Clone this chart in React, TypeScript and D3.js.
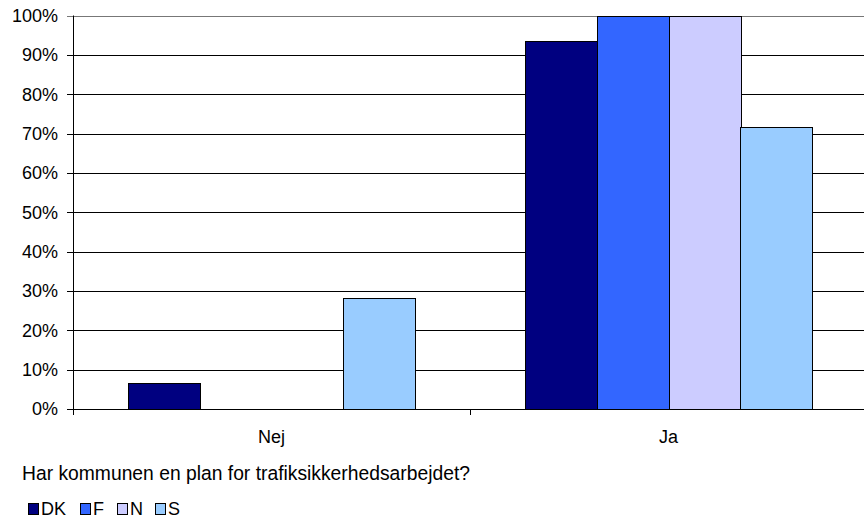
import * as d3 from "d3";

const categories = ["Nej", "Ja"];
const seriesNames = ["DK", "F", "N", "S"];
const seriesColors = ["#000080", "#3366FF", "#CCCCFF", "#99CCFF"];
const dkValues = [6.5, 93.5];
const fValues = [0, 100];
const nValues = [0, 100];
const sValues = [28.3, 71.7];
const yTicks = [0, 10, 20, 30, 40, 50, 60, 70, 80, 90, 100];
const title = "Har kommunen en plan for trafiksikkerhedsarbejdet?";

const W = 864;
const H = 519;
const M = { left: 73, top: 15.5, right: -3, bottom: 110 };
const FONT = "Liberation Sans, Arial, sans-serif";

export default function App() {
  const series = [dkValues, fValues, nValues, sValues];
  const x0 = d3
    .scaleBand<string>()
    .domain(categories)
    .range([M.left, W - M.right]);
  const x1 = d3
    .scaleBand<string>()
    .domain(seriesNames)
    .range([0, x0.bandwidth()])
    .paddingInner(0)
    .paddingOuter(0.757);
  const y = d3.scaleLinear().domain([0, 100]).range([H - M.bottom, M.top]);
  const y0 = y(0);

  return (
    <svg
      width={W}
      height={H}
      style={{ position: "absolute", left: 0, top: 0, fontFamily: FONT }}
    >
      <rect width={W} height={H} fill="#fff" />
      {yTicks.map((t) => (
        <g key={t}>
          <line
            x1={M.left - 6}
            x2={W - M.right}
            y1={Math.round(y(t)) + 0.5}
            y2={Math.round(y(t)) + 0.5}
            stroke={t === 100 ? "#777" : "#000"}
          />
          <text
            x={58}
            y={y(t)}
            dy="0.36em"
            textAnchor="end"
            fontSize={18}
            fill="#000"
          >
            {t}%
          </text>
        </g>
      ))}
      {categories.map((c, ci) => (
        <g key={c}>
          {series.map((vals, si) => {
            const v = vals[ci];
            if (v <= 0) return null;
            const bx = (x0(c) as number) + (x1(seriesNames[si]) as number);
            return (
              <rect
                key={si}
                x={Math.round(bx) + 0.5}
                y={Math.round(y(v)) + 0.5}
                width={Math.round(x1.bandwidth())}
                height={Math.round(y0) - Math.round(y(v))}
                fill={seriesColors[si]}
                stroke="#000"
                strokeWidth={1}
              />
            );
          })}
          <text
            x={(x0(c) as number) + x0.bandwidth() / 2}
            y={443}
            textAnchor="middle"
            fontSize={18}
            fill="#000"
          >
            {c}
          </text>
        </g>
      ))}
      <line
        x1={M.left + 0.5}
        x2={M.left + 0.5}
        y1={M.top}
        y2={Math.round(y0) + 6}
        stroke="#000"
      />
      <line
        x1={M.left}
        x2={W}
        y1={Math.round(y0) + 0.5}
        y2={Math.round(y0) + 0.5}
        stroke="#000"
      />
      {[1, 2].map((i) => {
        const tx = Math.round(M.left + i * x0.bandwidth()) + 0.5;
        return (
          <line
            key={i}
            x1={tx}
            x2={tx}
            y1={y0}
            y2={Math.round(y0) + 6}
            stroke="#000"
          />
        );
      })}
      <text x={22} y={480} fontSize={19.3} fill="#000">
        {title}
      </text>
      {(() => {
        const starts = [28, 80, 117, 155];
        return seriesNames.map((s, i) => {
          const gx = starts[i];
          return (
            <g key={s}>
              <rect
                x={gx + 0.5}
                y={503.5}
                width={10}
                height={11}
                fill={seriesColors[i]}
                stroke="#000"
              />
              <text x={gx + 13} y={515} fontSize={18} fill="#000">
                {s}
              </text>
            </g>
          );
        });
      })()}
    </svg>
  );
}
